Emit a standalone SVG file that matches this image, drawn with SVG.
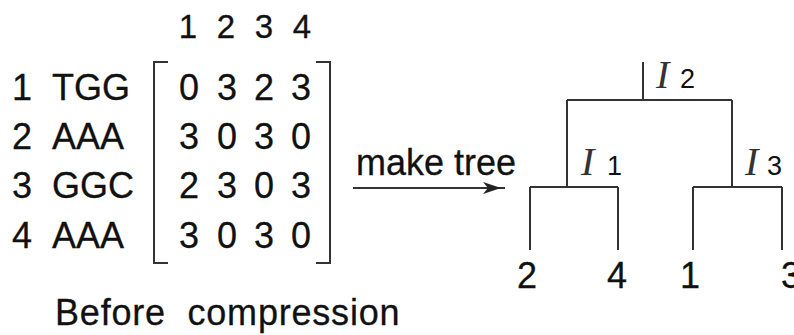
<svg xmlns="http://www.w3.org/2000/svg" width="794" height="335" viewBox="0 0 794 335">
<style>
.t{font-family:"Liberation Sans",Arial,sans-serif;font-size:36px;fill:#111;stroke:#111;stroke-width:0.3}
.h{font-size:33px}
.m{text-anchor:middle}
.i{font-family:"Liberation Serif","Times New Roman",serif;font-style:italic;font-size:40px;fill:#333}
.s{font-family:"Liberation Sans",Arial,sans-serif;font-size:27px;fill:#111}
.ln{stroke:#333;stroke-width:2;fill:none}
</style>
<rect width="794" height="335" fill="#fff"/>
<g id="matrix">
<g class="t h m">
<text x="188" y="38">1</text><text x="226" y="38">2</text><text x="264" y="38">3</text><text x="302" y="38">4</text>
</g>
<g class="t">
<text x="12" y="100">1</text><text x="52" y="100">TGG</text>
<text x="12" y="149">2</text><text x="52" y="149">AAA</text>
<text x="12" y="198">3</text><text x="52" y="198">GGC</text>
<text x="12" y="248">4</text><text x="52" y="248">AAA</text>
</g>
<path class="ln" d="M168,62H154V263H168M316,62H330V263H316"/>
<g class="t m">
<text x="189" y="100">0</text><text x="227" y="100">3</text><text x="264" y="100">2</text><text x="301" y="100">3</text>
<text x="189" y="149">3</text><text x="227" y="149">0</text><text x="264" y="149">3</text><text x="301" y="149">0</text>
<text x="189" y="198">2</text><text x="227" y="198">3</text><text x="264" y="198">0</text><text x="301" y="198">3</text>
<text x="189" y="248">3</text><text x="227" y="248">0</text><text x="264" y="248">3</text><text x="301" y="248">0</text>
</g>
<text class="t" x="55" y="325" letter-spacing="0.8" xml:space="preserve">Before  compression</text>
</g>
<g id="connectors">
<line class="ln" x1="353" y1="188" x2="505" y2="188"/>
<path d="M501,188L483,182L488,188L483,194Z" fill="#222"/>
<path class="ln" d="M643,62V100M567,100H732M567,100V187M732,100V187M530,187H618M530,187V250M618,187V250M693,187H782M693,187V250M782,187V250"/>
</g>
<text class="t" x="356" y="175">make tree</text>
<g id="I2"><text class="i" x="656" y="88">I</text><text class="s" x="680" y="88">2</text></g>
<g id="I1"><text class="i" x="581" y="175">I</text><text class="s" x="607" y="175">1</text></g>
<g id="I3"><text class="i" x="745" y="175">I</text><text class="s" x="767" y="175">3</text></g>
<g id="leaves" class="t">
<text x="517" y="288">2</text>
<text x="607" y="288">4</text>
<text x="680" y="288">1</text>
<text x="781" y="288">3</text>
</g>
</svg>
